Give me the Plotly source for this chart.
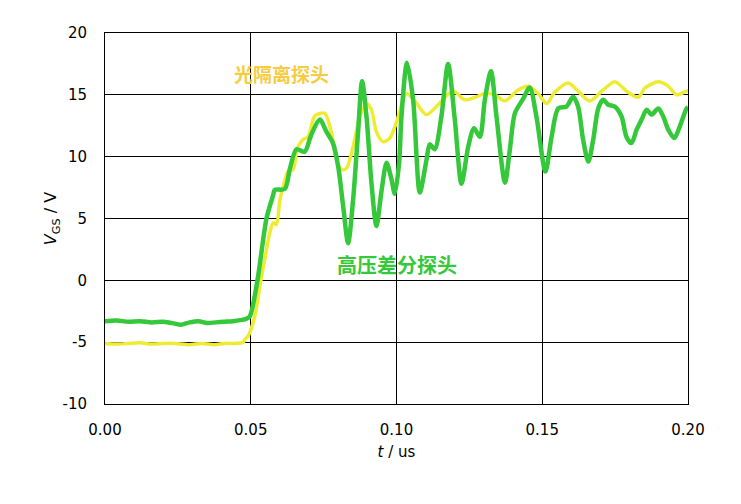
import plotly.graph_objects as go

# 高压差分探头 (green)
t_diff = [0.000, 0.004, 0.008, 0.012, 0.016, 0.020, 0.024, 0.026, 0.029, 0.032, 0.035,
          0.038, 0.041, 0.044, 0.047, 0.0485, 0.0497, 0.0523, 0.0554, 0.0577, 0.0582,
          0.0617, 0.0634, 0.0657, 0.0685, 0.0708, 0.0737, 0.0760, 0.0782, 0.0800, 0.0817,
          0.0834, 0.0851, 0.0868, 0.0882, 0.0897, 0.0914, 0.0931, 0.0949, 0.0966, 0.0983,
          0.0994, 0.1009, 0.1017, 0.1036, 0.1057, 0.1080, 0.1103, 0.1114, 0.1131, 0.1154,
          0.1177, 0.1200, 0.1223, 0.1246, 0.1266, 0.1286, 0.1303, 0.1324, 0.1343, 0.1372,
          0.1389, 0.1406, 0.1435, 0.1457, 0.1480, 0.1511, 0.1532, 0.1555, 0.1583, 0.1606,
          0.1623, 0.1640, 0.1658, 0.1675, 0.1692, 0.1709, 0.1726, 0.1749, 0.1772, 0.1789,
          0.1806, 0.1824, 0.1841, 0.1858, 0.1875, 0.1898, 0.1915, 0.1932, 0.1953, 0.1972,
          0.1995, 0.2000]
v_diff = [-3.3, -3.25, -3.35, -3.3, -3.4, -3.35, -3.5, -3.6, -3.4, -3.3, -3.45,
          -3.4, -3.35, -3.3, -3.2, -3.1, -2.9, 0.0, 5.0, 6.9, 7.3,
          7.4, 9.0, 10.6, 10.4, 11.8, 13.0, 12.0, 11.1, 9.2, 6.0,
          3.0, 6.5, 11.9, 16.1, 13.25, 7.9, 4.4, 7.3, 9.5, 8.15,
          7.0, 9.5, 13.25, 17.6, 14.6, 7.1, 9.75, 11.0, 10.6, 13.25,
          17.5, 13.0, 7.8, 10.8, 12.3, 11.6, 14.6, 16.9, 13.25, 7.9,
          10.6, 13.5, 14.7, 15.6, 13.25, 8.8, 11.6, 13.9, 14.05, 14.85,
          14.05, 11.4, 9.6, 11.4, 13.9, 14.6, 14.2, 14.05, 13.25, 11.6,
          11.1, 12.2, 13.0, 13.8, 13.4, 13.9, 13.25, 12.2, 11.5, 12.45,
          13.9, 14.0]

# 光隔离探头 (yellow)
t_opt = [0.000, 0.004, 0.008, 0.012, 0.016, 0.020, 0.024, 0.029, 0.033, 0.0375,
         0.041, 0.044, 0.0474, 0.0479, 0.0491, 0.0514, 0.0531, 0.0548, 0.0565, 0.0577,
         0.0588, 0.0600, 0.0617, 0.0628, 0.0645, 0.0662, 0.0680, 0.0697, 0.0720, 0.0754,
         0.0777, 0.0794, 0.0811, 0.0828, 0.0851, 0.0874, 0.0897, 0.0914, 0.0931, 0.0954,
         0.0977, 0.1000, 0.1034, 0.1063, 0.1103, 0.1143, 0.1194, 0.1234, 0.1280, 0.1303,
         0.1337, 0.1372, 0.1417, 0.1452, 0.1486, 0.1515, 0.1543, 0.1589, 0.1623, 0.1663,
         0.1709, 0.1749, 0.1789, 0.1829, 0.1852, 0.1898, 0.1932, 0.1961, 0.1995, 0.2000]
v_opt = [-5.1, -5.15, -5.1, -5.05, -5.15, -5.1, -5.1, -5.2, -5.1, -5.2,
         -5.1, -5.1, -5.0, -4.8, -4.5, -2.9, -0.5, 1.7, 3.8, 4.65,
         4.5, 6.5, 8.1, 8.8, 8.95, 10.8, 11.4, 11.6, 13.3, 13.5,
         11.9, 9.75, 8.95, 9.05, 10.8, 13.25, 14.3, 13.8, 12.0, 11.2,
         11.5, 12.8, 15.1, 14.5, 13.4, 14.2, 15.3, 14.6, 14.9, 15.1,
         15.0, 14.5, 15.4, 15.7, 15.1, 14.3, 15.2, 15.95, 15.3, 14.5,
         15.4, 16.05, 15.3, 14.8, 15.55, 16.05, 15.7, 15.0, 15.3, 15.3]

x_ticks = [0.00, 0.05, 0.10, 0.15, 0.20]
x_tick_labels = ["0.00", "0.05", "0.10", "0.15", "0.20"]
y_ticks = [-10, -5, 0, 5, 10, 15, 20]
y_tick_labels = ["-10", "-5", "0", "5", "10", "15", "20"]

YELLOW = "rgb(238,236,50)"
GREEN = "rgb(52,200,58)"

fig = go.Figure()
fig.add_trace(go.Scatter(x=t_opt, y=v_opt, mode="lines",
                         line=dict(color=YELLOW, width=3.5, shape="spline", smoothing=0.8),
                         name="光隔离探头", showlegend=False))
fig.add_trace(go.Scatter(x=t_diff, y=v_diff, mode="lines",
                         line=dict(color=GREEN, width=4.5, shape="spline", smoothing=0.8),
                         name="高压差分探头", showlegend=False))

fig.add_annotation(x=0.0605, y=16.73, xref="x", yref="y", text="<b>光隔离探头</b>",
                   showarrow=False, font=dict(family="Noto Sans CJK SC", size=19,
                                              color="rgb(246,204,66)"))
fig.add_annotation(x=0.1000, y=1.29, xref="x", yref="y", text="<b>高压差分探头</b>",
                   showarrow=False, font=dict(family="Noto Sans CJK SC", size=20,
                                              color=GREEN))

axis_common = dict(showline=True, linecolor="black", linewidth=1, mirror=True,
                   showgrid=True, gridcolor="black", gridwidth=1, zeroline=False,
                   automargin=False, ticks="",
                   tickfont=dict(family="DejaVu Sans", size=15, color="black"))

fig.update_xaxes(range=[0, 0.2], tickvals=x_ticks, ticktext=x_tick_labels,
                 ticklabelstandoff=12,
                 title=dict(text="<i>t</i> / us", font=dict(family="DejaVu Sans", size=15,
                                                            color="black"), standoff=8),
                 **axis_common)
fig.update_yaxes(range=[-10, 20], tickvals=y_ticks, ticktext=y_tick_labels,
                 ticklabelstandoff=14,
                 title=dict(text="<i>V</i><sub>GS</sub> / V",
                            font=dict(family="DejaVu Sans", size=16, color="black"),
                            standoff=1),
                 **axis_common)

# page body adds an 8px offset; compensate so the plot area matches the reference
fig.update_layout(width=733, height=496, margin=dict(l=97, r=53, t=25, b=100),
                  plot_bgcolor="white", paper_bgcolor="white", showlegend=False)

fig.write_html("out.html")
